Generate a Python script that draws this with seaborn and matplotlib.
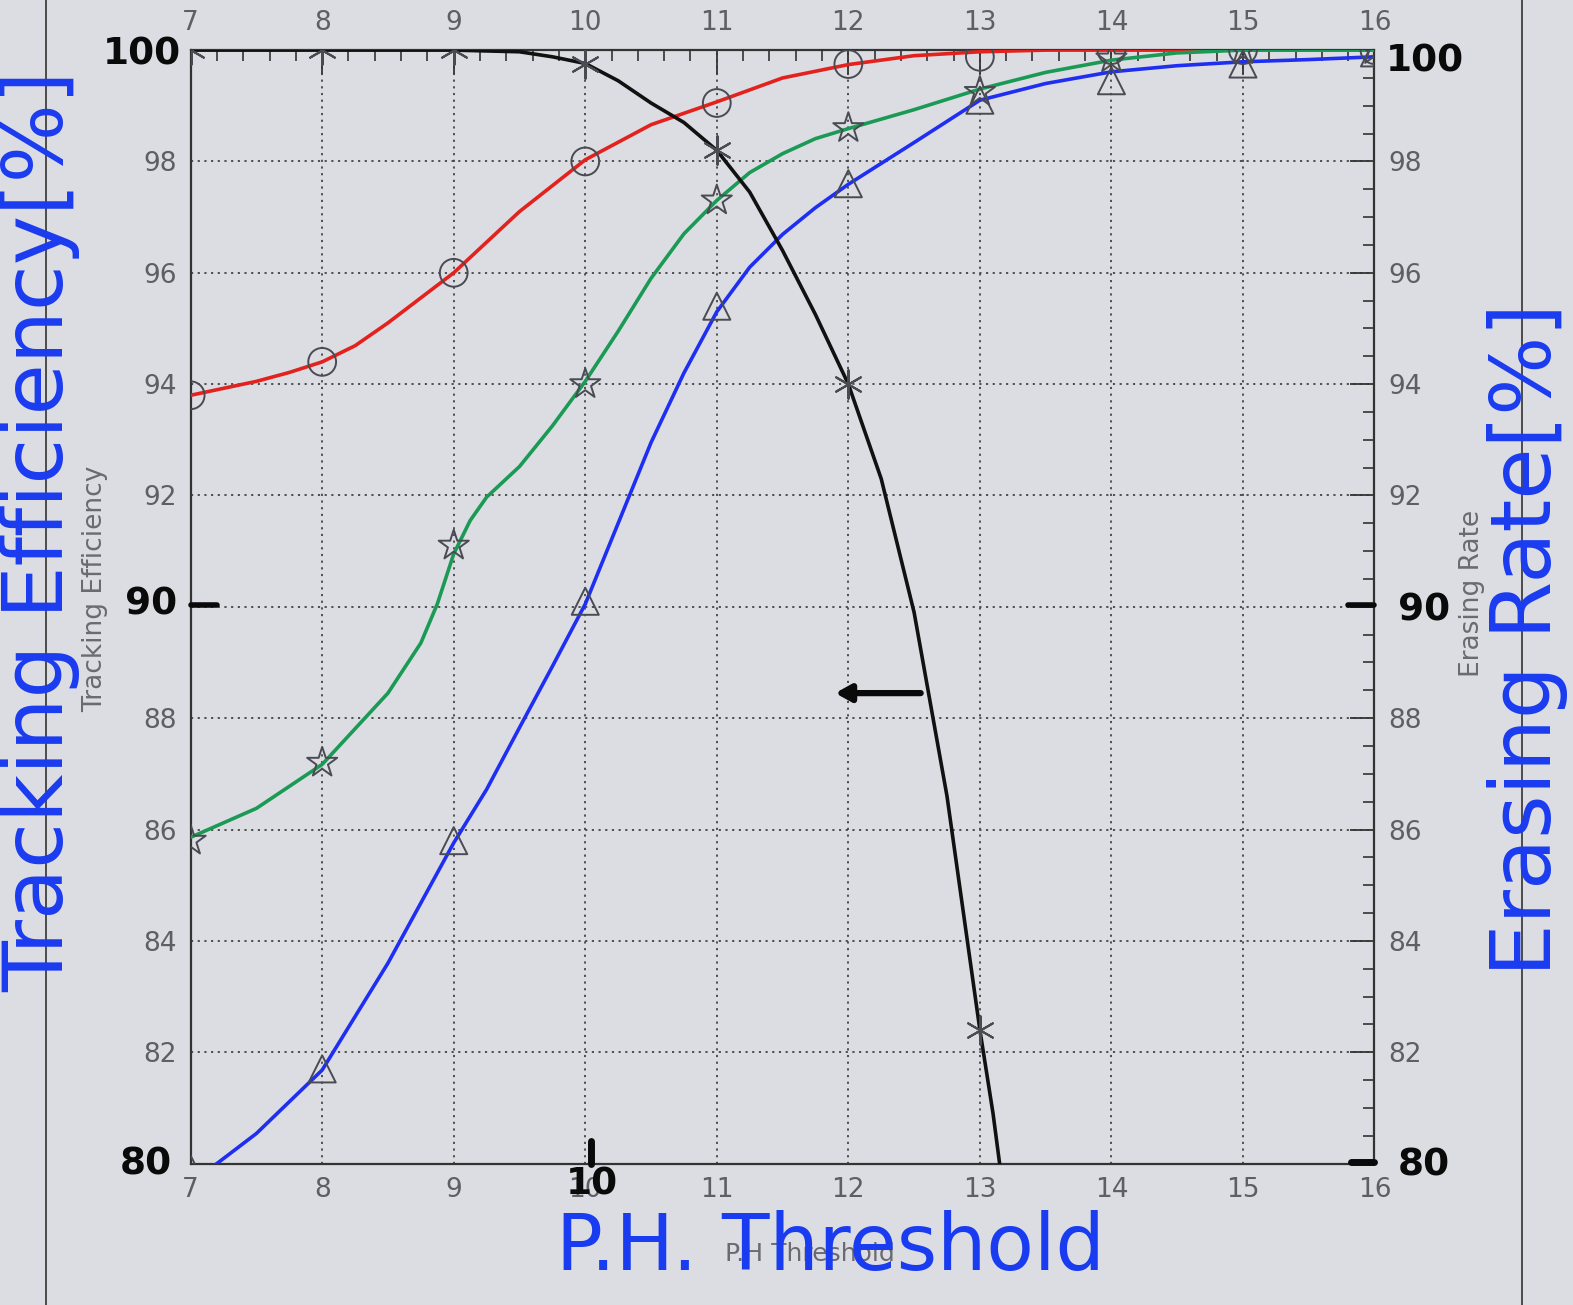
import numpy as np
import pandas as pd
import seaborn as sns
import matplotlib
matplotlib.use("Agg")
import matplotlib.pyplot as plt
from matplotlib.lines import Line2D
from matplotlib.ticker import MultipleLocator

# ---- data ----
threshold_marks = [7, 8, 9, 10, 11, 12, 13, 14, 15, 16]
red_marks = [93.8, 94.4, 96.0, 98.0, 99.05, 99.75, 99.88, 100.0, 100.0, 100.0]
green_marks = [85.8, 87.2, 91.1, 94.0, 97.3, 98.6, 99.25, 99.85, 100.0, 100.0]
blue_marks = [79.9, 81.7, 85.8, 90.1, 95.4, 97.6, 99.1, 99.45, 99.75, 99.95]
black_mark_x = [7, 8, 9, 10, 11, 12, 13]
black_marks = [100.0, 100.0, 100.0, 99.75, 98.2, 94.0, 82.4]

red_x = [7.0, 7.5, 7.75, 8.0, 8.25, 8.5, 9.0, 9.5, 10.0, 10.5, 11.0, 11.5, 12.0, 12.5, 13.0, 13.5, 14.0, 15.0, 16.0]
red_y = [93.8, 94.05, 94.21, 94.4, 94.69, 95.1, 96.0, 97.1, 98.03, 98.66, 99.07, 99.5, 99.74, 99.9, 99.97, 100.0, 100.0, 100.0, 100.0]

green_x = [7.0, 7.5, 8.0, 8.5, 8.75, 8.875, 9.0, 9.125, 9.25, 9.5, 9.75, 10.0, 10.25, 10.5, 10.75, 11.0,
           11.25, 11.5, 11.75, 12.0, 12.5, 13.0, 13.5, 14.0, 14.5, 15.0, 16.0]
green_y = [85.86, 86.38, 87.17, 88.45, 89.35, 90.05, 90.95, 91.55, 91.97, 92.52, 93.25, 94.05, 94.95, 95.9, 96.7, 97.3,
           97.8, 98.14, 98.41, 98.59, 98.93, 99.3, 99.6, 99.82, 99.95, 100.0, 100.0]

blue_x = [7.0, 7.2, 7.5, 8.0, 8.5, 9.0, 9.25, 9.5, 9.75, 10.0, 10.25, 10.5, 10.75, 11.0,
          11.25, 11.5, 11.75, 12.0, 12.5, 13.0, 13.5, 14.0, 14.5, 15.0, 15.5, 16.0]
blue_y = [79.7, 80.0, 80.54, 81.68, 83.6, 85.76, 86.72, 87.83, 88.93, 90.05, 91.5, 92.95, 94.2, 95.3,
          96.1, 96.69, 97.17, 97.59, 98.34, 99.1, 99.4, 99.61, 99.72, 99.79, 99.83, 99.88]

black_x = [7.0, 8.0, 9.0, 9.5, 9.75, 10.0, 10.25, 10.5, 10.75, 11.0, 11.25, 11.5, 11.75, 12.0,
           12.25, 12.5, 12.75, 13.0, 13.1, 13.15]
black_y = [100.0, 100.0, 100.0, 99.97, 99.88, 99.76, 99.45, 99.05, 98.7, 98.2, 97.45, 96.4, 95.25, 94.0,
           92.3, 89.9, 86.6, 82.4, 80.9, 80.0]

x_ticks = list(range(7, 17))
y_ticks = list(range(80, 101, 2))
y_tick_labels = ["", "82", "84", "86", "88", "", "92", "94", "96", "98", ""]

# ---- style ----
bg = "#dcdde3"
sns.set_style("white")
plt.rcParams["font.family"] = ["DejaVu Sans"]

fig = plt.figure(figsize=(15.73, 13.05), dpi=100, facecolor=bg)
ax = fig.add_axes([0.1212, 0.1084, 0.7526, 0.8532])
ax.set_facecolor(bg)

lw = 2.6
sns.lineplot(x=red_x, y=red_y, ax=ax, color="#e3221e", lw=lw, zorder=3)
sns.lineplot(x=green_x, y=green_y, ax=ax, color="#1b9a55", lw=lw, zorder=3)
sns.lineplot(x=blue_x, y=blue_y, ax=ax, color="#1e2ff2", lw=lw, zorder=3)
sns.lineplot(x=black_x, y=black_y, ax=ax, color="#111111", lw=lw, zorder=4)

mk = pd.DataFrame({"x": threshold_marks, "red": red_marks, "green": green_marks, "blue": blue_marks})
mcol = "#4a4a52"
sns.scatterplot(data=mk, x="x", y="red", ax=ax, marker="o", s=400, facecolors="none",
                edgecolor=mcol, linewidth=1.4, zorder=5)
sns.scatterplot(data=mk, x="x", y="green", ax=ax, marker="*", s=520, facecolors="none",
                edgecolor=mcol, linewidth=1.4, zorder=5)
sns.scatterplot(data=mk, x="x", y="blue", ax=ax, marker="^", s=380, facecolors="none",
                edgecolor=mcol, linewidth=1.4, zorder=5)
bm = pd.DataFrame({"x": black_mark_x, "y": black_marks})
sns.scatterplot(data=bm, x="x", y="y", ax=ax, marker=(6, 2, 0), s=420, color=mcol,
                linewidth=1.5, zorder=5)

ax.set_xlim(7, 16)
ax.set_ylim(80, 100)
ax.set_xticks(x_ticks)
ax.set_yticks(y_ticks)
ax.set_yticklabels(y_tick_labels)
ax.xaxis.set_minor_locator(MultipleLocator(0.2))
ax.yaxis.set_minor_locator(MultipleLocator(0.5))
ax.tick_params(which="both", direction="in", top=True, right=True, labeltop=True,
               labelright=True, colors="#333333", labelcolor="#5e5e64", labelsize=19, pad=10)
ax.tick_params(which="major", length=17, width=1.3)
ax.tick_params(which="minor", length=8, width=1.2)
ax.grid(True, which="major", linestyle=(0, (1.2, 2.5)), color="#444444", lw=1.3)
for s in ax.spines.values():
    s.set_color("#333333")
    s.set_linewidth(1.6)
ax.set_xlabel("")
ax.set_ylabel("")

# printed (gray) axis titles
fig.text(0.0606, 0.549, "Tracking Efficiency", rotation=90, ha="center", va="center",
         fontsize=19, color="#6a6a70")
fig.text(0.9355, 0.545, "Erasing Rate", rotation=90, ha="center", va="center",
         fontsize=19, color="#6a6a70")
fig.text(0.515, 0.039, "P.H Threshold", ha="center", va="center", fontsize=18, color="#6a6a70")

# handwritten annotations
hb = "#1a3cf0"
fig.text(0.0255, 0.593, "Tracking Efficiency[%]", rotation=90, ha="center", va="center",
         fontsize=60, color=hb)
fig.text(0.971, 0.51, "Erasing Rate[%]", rotation=90, ha="center", va="center",
         fontsize=60, color=hb)
fig.text(0.528, 0.044, "P.H. Threshold", ha="center", va="center", fontsize=56, color=hb)

bk = dict(fontsize=27, fontweight="bold", color="#0a0a0a", ha="center", va="center")
fig.text(0.09, 0.958, "100", **bk)
fig.text(0.096, 0.537, "90", **bk)
fig.text(0.093, 0.108, "80", **bk)
fig.text(0.906, 0.953, "100", **bk)
fig.text(0.905, 0.532, "90", **bk)
fig.text(0.905, 0.107, "80", **bk)
fig.text(0.376, 0.092, "10", **bk)

# thick hand marks on axes
fig.add_artist(Line2D([0.1212, 0.138], [0.5364, 0.5364], color="#0a0a0a", lw=4))
fig.add_artist(Line2D([0.857, 0.8737], [0.5364, 0.5364], color="#0a0a0a", lw=4))
fig.add_artist(Line2D([0.859, 0.8737], [0.1095, 0.1095], color="#0a0a0a", lw=5))
fig.add_artist(Line2D([0.3755, 0.3755], [0.1084, 0.126], color="#0a0a0a", lw=5))

# hand-drawn arrow
ax.annotate("", xy=(11.9, 88.45), xytext=(12.55, 88.45),
            arrowprops=dict(arrowstyle="-|>,head_length=0.9,head_width=0.5", lw=4.5,
                            color="#0a0a0a", shrinkA=0, shrinkB=0))

# page border lines of the scan
fig.add_artist(Line2D([0.0295, 0.0295], [0, 1], color="#333333", lw=1.2))
fig.add_artist(Line2D([0.9675, 0.9675], [0, 1], color="#333333", lw=1.2))

fig.savefig("out.png", dpi=100, facecolor=bg)
